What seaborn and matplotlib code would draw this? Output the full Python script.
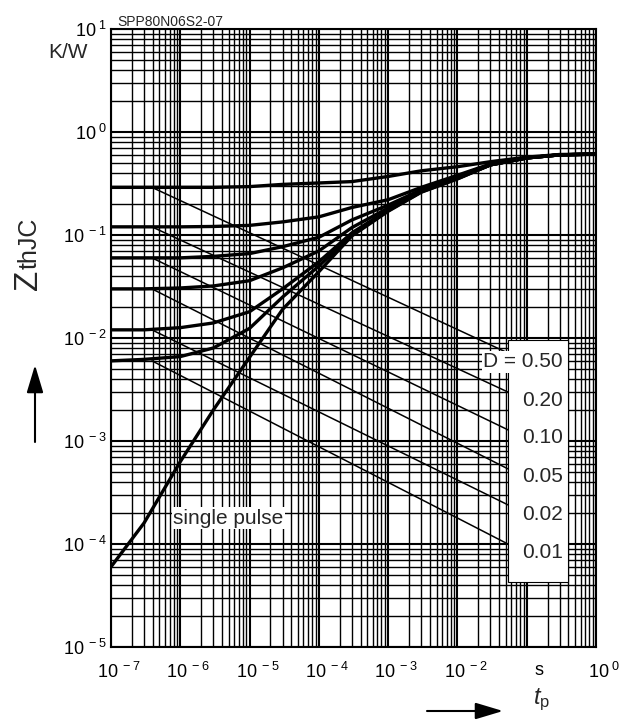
import numpy as np
import pandas as pd
import matplotlib
matplotlib.use("Agg")
import matplotlib.pyplot as plt
from matplotlib.ticker import FixedLocator, FixedFormatter, LogLocator, NullFormatter
from matplotlib.transforms import ScaledTranslation
from matplotlib.patches import Rectangle
import seaborn as sns

# ---------------- data ----------------
tp = [1e-7, 3e-7, 1e-6, 3e-6, 1e-5, 3e-5, 1e-4, 3e-4, 1e-3, 3e-3, 1e-2, 3e-2, 1e-1, 3e-1, 1.0]

z_d050 = [0.29, 0.29, 0.29, 0.29, 0.295, 0.31, 0.32, 0.33, 0.37, 0.42, 0.46, 0.515, 0.57, 0.605, 0.61]
z_d020 = [0.12, 0.12, 0.12, 0.121, 0.124, 0.134, 0.150, 0.185, 0.22, 0.29, 0.38, 0.49, 0.56, 0.60, 0.61]
z_d010 = [0.06, 0.06, 0.06, 0.062, 0.066, 0.077, 0.095, 0.14, 0.195, 0.275, 0.37, 0.48, 0.56, 0.60, 0.61]
z_d005 = [0.03, 0.03, 0.0306, 0.032, 0.036, 0.048, 0.070, 0.118, 0.183, 0.268, 0.36, 0.48, 0.56, 0.60, 0.61]
z_d002 = [0.012, 0.012, 0.0126, 0.014, 0.018, 0.030, 0.055, 0.105, 0.175, 0.265, 0.355, 0.48, 0.56, 0.60, 0.61]
z_d001 = [0.006, 0.0062, 0.0066, 0.008, 0.0124, 0.025, 0.05, 0.10, 0.172, 0.262, 0.352, 0.48, 0.56, 0.60, 0.61]
z_single = [6.0e-5, 1.6e-4, 6.3e-4, 2.0e-3, 6.5e-3, 0.019, 0.044, 0.098, 0.17, 0.26, 0.35, 0.48, 0.56, 0.60, 0.61]

duty_labels = ["D = 0.50", "0.20", "0.10", "0.05", "0.02", "0.01"]
diag_t = [3.9e-7, 0.066]
diag_start = [0.29, 0.12, 0.06, 0.03, 0.012, 0.006]
diag_end = [6.7e-3, 2.8e-3, 1.2e-3, 5.0e-4, 2.24e-4, 9.3e-5]
label_t = 0.333
label_z = [5.85e-3, 2.5e-3, 1.07e-3, 4.5e-4, 1.95e-4, 8.3e-5]

x_ticks = [1e-7, 1e-6, 1e-5, 1e-4, 1e-3, 1e-2, 1e-1, 1e0]
x_exps = ["-7", "-6", "-5", "-4", "-3", "-2", None, "0"]
y_ticks = [1e-5, 1e-4, 1e-3, 1e-2, 1e-1, 1e0, 1e1]
y_exps = ["-5", "-4", "-3", "-2", "-1", "0", "1"]

# ---------------- styling ----------------
sns.set_theme(style="white")
plt.rcParams["font.family"] = ["Liberation Sans", "DejaVu Sans"]
plt.rcParams["mathtext.fontset"] = "custom"
plt.rcParams["mathtext.rm"] = "Liberation Sans"
plt.rcParams["mathtext.it"] = "Liberation Sans:italic"
plt.rcParams["mathtext.bf"] = "Liberation Sans:bold"

fig = plt.figure(figsize=(6.35, 7.22), dpi=100)
ax = fig.add_axes([0.17480, 0.10388, 0.76378, 0.85596])
ax.set_xscale("log")
ax.set_yscale("log")

curves = {"0.50": z_d050, "0.20": z_d020, "0.10": z_d010, "0.05": z_d005,
          "0.02": z_d002, "0.01": z_d001, "single": z_single}
df = pd.concat([pd.DataFrame({"tp": tp, "z": v, "curve": k}) for k, v in curves.items()],
               ignore_index=True)
sns.lineplot(data=df, x="tp", y="z", hue="curve", palette={k: "black" for k in curves},
             estimator=None, sort=False, legend=False, lw=2.4, ax=ax, zorder=4)

diag = pd.concat([pd.DataFrame({"tp": diag_t, "z": [s, e], "curve": lab})
                  for s, e, lab in zip(diag_start, diag_end, duty_labels)], ignore_index=True)
sns.lineplot(data=diag, x="tp", y="z", hue="curve", palette={k: "black" for k in duty_labels},
             estimator=None, sort=False, legend=False, lw=1.1, ax=ax, zorder=2.5)

ax.set_xlim(1e-7, 1)
ax.set_ylim(1e-5, 10)

ax.xaxis.set_major_locator(FixedLocator(x_ticks))
ax.yaxis.set_major_locator(FixedLocator(y_ticks))
ax.xaxis.set_minor_locator(LogLocator(base=10, subs=np.arange(2, 10), numticks=100))
ax.yaxis.set_minor_locator(LogLocator(base=10, subs=np.arange(2, 10), numticks=100))
ax.xaxis.set_minor_formatter(NullFormatter())
ax.yaxis.set_minor_formatter(NullFormatter())
xlabels = [("  s" if e is None else r"$\mathregular{10^{\ %s}}$" % e) for e in x_exps]
ylabels = [r"$\mathregular{10^{\ %s}}$" % e for e in y_exps]
ax.xaxis.set_major_formatter(FixedFormatter(xlabels))
ax.yaxis.set_major_formatter(FixedFormatter(ylabels))
ax.tick_params(which="both", length=0)
ax.tick_params(axis="x", labelsize=13, pad=11, colors="black")
ax.tick_params(axis="y", labelsize=13, pad=3, colors="black")
ax.grid(which="major", color="black", lw=1.5)
ax.grid(which="minor", color="black", lw=1.0)
ax.set_axisbelow(True)
for sp in ax.spines.values():
    sp.set_color("black")
    sp.set_linewidth(1.5)
ax.set_xlabel("")
ax.set_ylabel("")

shift = ScaledTranslation(8 / 100, 0, fig.dpi_scale_trans)
for tick in ax.xaxis.get_major_ticks():
    tick.label1.set_transform(tick.label1.get_transform() + shift)

# label box for D values
ax.add_patch(Rectangle((0.8186, 0.105), 0.1237, 0.392, transform=ax.transAxes,
                       facecolor="white", edgecolor="black", lw=0.8, zorder=3))
for lab, zl in zip(duty_labels, label_z):
    kw = {}
    if lab.startswith("D"):
        kw["bbox"] = dict(facecolor="white", edgecolor="none", pad=1)
    ax.text(label_t, zl, lab, ha="right", va="center", fontsize=15, zorder=6, **kw)

ax.text(7.85e-7, 1.78e-4, "single pulse", ha="left", va="center", fontsize=15, zorder=6,
        bbox=dict(facecolor="white", edgecolor="none", pad=1))

# titles / units / axis names
fig.text(117 / 635, 1 - 26 / 722, "SPP80N06S2-07", fontsize=10, ha="left", va="baseline")
fig.text(68 / 635, 1 - 52 / 722, "K/W", fontsize=15, ha="center", va="center")
fig.text(37 / 635, 1 - 290 / 722, "Z", fontsize=24, rotation=90, rotation_mode="anchor",
         ha="left", va="baseline")
fig.text(37 / 635, 1 - 269 / 722, "thJC", fontsize=18, rotation=90, rotation_mode="anchor",
         ha="left", va="baseline")
fig.text(542 / 635, 1 - 700 / 722, r"$t_\mathregular{p}$", fontsize=17, ha="center", va="center")

arrow = dict(arrowstyle="-|>,head_length=1.0,head_width=0.3", color="black", lw=1.5,
             mutation_scale=17, shrinkA=0, shrinkB=0)
ax.annotate("", xy=(503, 722 - 711), xytext=(427, 722 - 711), xycoords="figure pixels",
            textcoords="figure pixels", arrowprops=arrow, annotation_clip=False)
ax.annotate("", xy=(35, 722 - 365), xytext=(35, 722 - 442), xycoords="figure pixels",
            textcoords="figure pixels", arrowprops=arrow, annotation_clip=False)

fig.savefig("out.png", dpi=100, facecolor="white")
